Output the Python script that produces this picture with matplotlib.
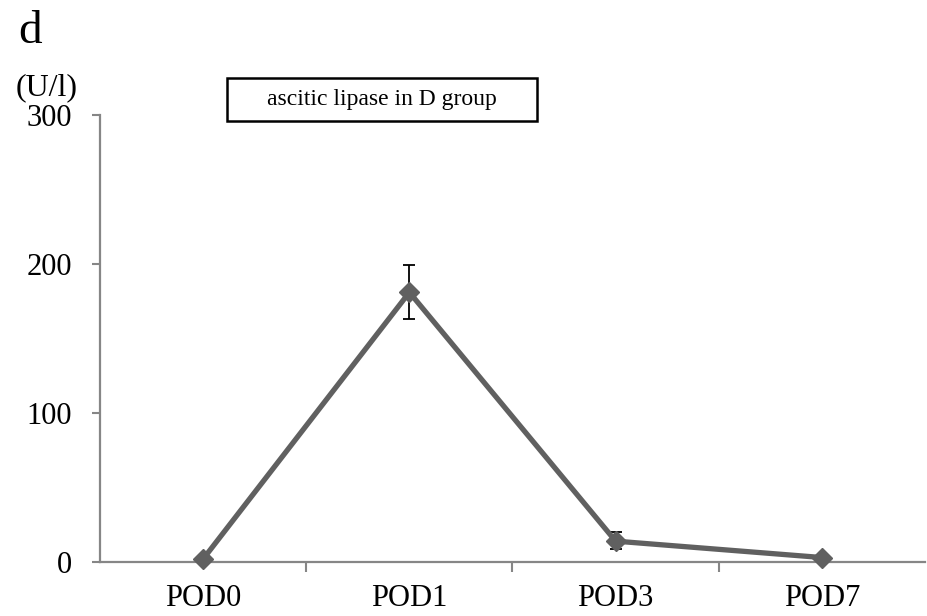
import matplotlib.pyplot as plt
from matplotlib.patches import Rectangle

# data
days = ['POD0', 'POD1', 'POD3', 'POD7']
lipase = [2, 181, 14, 3]
err_low = [0, 18, 5, 0]
err_high = [0, 18, 6, 0]

plt.rcParams['font.family'] = ['Liberation Serif', 'DejaVu Serif']

fig = plt.figure(figsize=(9.28, 6.16), dpi=100)
ax = fig.add_axes([100 / 928, 1 - 562 / 616, 825 / 928, (562 - 115) / 616])

x = range(len(days))
ax.errorbar(x, lipase, yerr=[err_low, err_high], fmt='none', ecolor='black',
            elinewidth=1.3, capsize=4.5, capthick=1.3, zorder=2)
ax.plot(x, lipase, color='#606060', linewidth=3.8, marker='D', markersize=10,
        zorder=3, clip_on=False)

ax.set_xlim(-0.5, 3.5)
ax.set_ylim(0, 300)
ax.set_yticks([0, 100, 200, 300])
ax.set_xticks([0.5, 1.5, 2.5])
ax.set_xticklabels([])
ax.set_xticks(list(x), labels=days, minor=True)
ax.tick_params(axis='x', which='minor', length=0, pad=16, labelsize=22)
ax.tick_params(axis='x', which='major', length=7, width=1.5, color='#868686',
               direction='out')
ax.tick_params(axis='y', length=6, width=1.5, color='#868686', direction='out',
               pad=14, labelsize=22)

for side in ['top', 'right']:
    ax.spines[side].set_visible(False)
for side in ['left', 'bottom']:
    ax.spines[side].set_color('#868686')
    ax.spines[side].set_linewidth(1.6)

fig.text(18 / 928, 1 - 32 / 616, 'd', fontsize=34, va='center', ha='left')
fig.text(16 / 928, 1 - 88 / 616, '(U/l)', fontsize=23, va='center', ha='left')

# title box
box = Rectangle((227 / 928, 1 - 121 / 616), 310 / 928, 43 / 616,
                transform=fig.transFigure, facecolor='white',
                edgecolor='black', linewidth=1.8)
fig.patches.append(box)
fig.text(382 / 928, 1 - 100 / 616, 'ascitic lipase in D group', fontsize=17,
         va='center', ha='center')

fig.savefig('out.png', dpi=100)
